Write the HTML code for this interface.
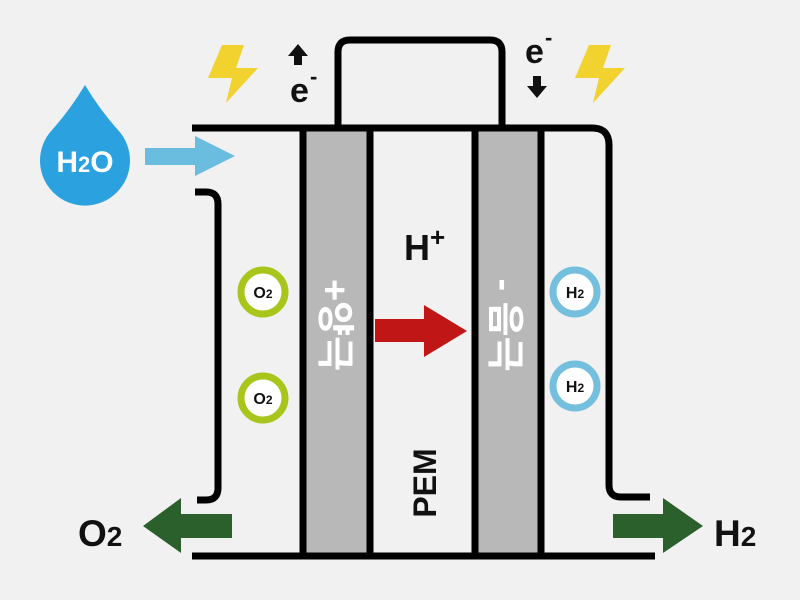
<!DOCTYPE html>
<html><head><meta charset="utf-8"><style>
body{margin:0;background:#f1f1f1;}
svg{display:block}
text{font-family:"Liberation Sans","Noto Sans CJK KR",sans-serif;font-weight:bold}
</style></head><body>
<svg width="800" height="600" viewBox="0 0 800 600">
<rect width="800" height="600" fill="#f1f1f1"/>
<rect x="306" y="128" width="62" height="428" fill="#b9b8b9"/>
<rect x="478" y="128" width="60" height="428" fill="#b9b8b9"/>
<g stroke="#000" stroke-width="7" fill="none">
<line x1="303" y1="128" x2="303" y2="556"/>
<line x1="370" y1="128" x2="370" y2="556"/>
<line x1="475" y1="128" x2="475" y2="556"/>
<line x1="541" y1="128" x2="541" y2="556"/>
<path d="M192 128 H592 Q609 128 609 145 V485 Q609 497 621 497 H650"/>
<path d="M195 192 H206 Q218 192 218 204 V488 Q218 500 206 500 H197"/>
<line x1="192" y1="556" x2="655" y2="556"/>
<path d="M338 128 V52 Q338 40 350 40 H490 Q502 40 502 52 V128"/>
</g>
<polygon points="222,45 244,45 236,68 258,68 226,103 232,78 208,78" fill="#f2d22e"/>
<polygon points="589,45 611,45 603,68 625,68 593,103 599,78 575,78" fill="#f2d22e"/>
<polygon points="298,44 308,56 302,56 302,65 294,65 294,56 288,56" fill="#111"/>
<text x="290" y="102" font-size="34" fill="#111">e</text><text x="310" y="84" font-size="22" fill="#111">-</text>
<text x="525" y="63" font-size="34" fill="#111">e</text><text x="545" y="45" font-size="22" fill="#111">-</text>
<polygon points="537,98 547,86 541,86 541,76 533,76 533,86 527,86" fill="#111"/>
<path d="M85 85 Q100 110 118 130 A45 45 0 1 1 52 130 Q70 110 85 85Z" fill="#2ba2df"/>
<text x="85" y="172" font-size="30" fill="#fff" text-anchor="middle">H<tspan font-size="22">2</tspan>O</text>
<polygon points="145,148 195,148 195,136 235,156 195,176 195,165 145,165" fill="#6bbde0"/>
<g stroke-width="7" fill="#fff">
<circle cx="263" cy="292" r="22" stroke="#a8c51c"/>
<circle cx="263" cy="398" r="22" stroke="#a8c51c"/>
<circle cx="575" cy="292" r="22" stroke="#74bfdd"/>
<circle cx="575" cy="386" r="22" stroke="#74bfdd"/>
</g>
<g font-size="16" fill="#111" text-anchor="middle">
<text x="263" y="298">O<tspan font-size="12">2</tspan></text>
<text x="263" y="404">O<tspan font-size="12">2</tspan></text>
<text x="575" y="298">H<tspan font-size="12">2</tspan></text>
<text x="575" y="392">H<tspan font-size="12">2</tspan></text>
</g>
<text transform="translate(322,325) rotate(90)" font-size="38" fill="#fff" text-anchor="middle">+양극</text>
<text transform="translate(492,325) rotate(90)" font-size="38" fill="#fff" text-anchor="middle">- 음극</text>
<text x="404" y="260" font-size="36" fill="#111">H</text><text x="430" y="246" font-size="26" fill="#111">+</text>
<polygon points="375,319 424,319 424,305 467,331 424,357 424,342 375,342" fill="#c01616"/>
<text transform="translate(436,483) rotate(-90)" font-size="32" fill="#111" text-anchor="middle">PEM</text>
<polygon points="232,514 181,514 181,498 143,526 181,553 181,538 232,538" fill="#2b5f2b"/>
<polygon points="613,514 663,514 663,498 703,526 663,553 663,538 613,538" fill="#2b5f2b"/>
<text x="78" y="546" font-size="37" fill="#111">O<tspan font-size="28">2</tspan></text>
<text x="714" y="546" font-size="37" fill="#111">H<tspan font-size="28">2</tspan></text>
</svg>
</body></html>
